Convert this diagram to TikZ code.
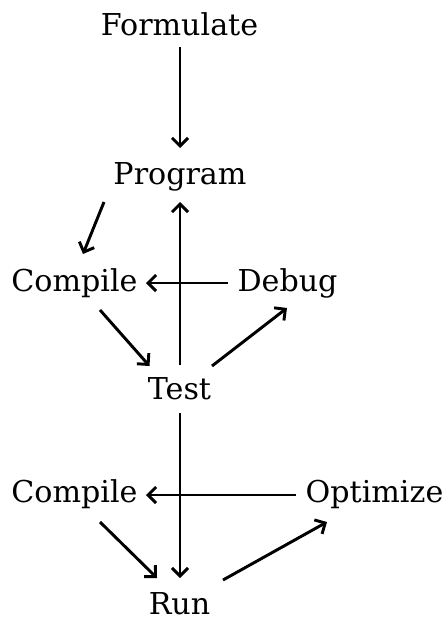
\documentclass[tikz,border=0pt]{standalone}
\usepackage{fontspec}
\setmainfont{DejaVu Serif}
\usetikzlibrary{calc,arrows.meta}
\begin{document}
\begin{tikzpicture}[x=0.75pt,y=-0.75pt,
  lbl/.style={anchor=base,inner sep=0pt,font=\fontsize{22.6}{28}\selectfont},
  arr/.style={-{Straight Barb[length=6pt,width=12pt,line width=2.2pt]},line width=2.2pt}]
\useasboundingbox (0,0) rectangle (444,617);
% labels, placed by their baselines
\node[lbl] (form) at (179.5,36) {Formulate};
\node[lbl] (prog) at (180,184) {Program};
\node[lbl] (compA) at (74.5,291) {Compile};
\node[lbl] (debug) at (287.5,291) {Debug};
\node[lbl] (test) at (179.5,399) {Test};
\node[lbl] (compB) at (74.5,502) {Compile};
\node[lbl] (opt) at (374.5,502) {Optimize};
\node[lbl] (run) at (179.5,614) {Run};
% arrows
\draw[arr] ($(form.base)+(0.5,11)$) -- ($(prog.base)+(0,-36)$);
\draw[arr] ($(test.base)+(0.5,-34)$) -- ($(prog.base)+(0,18)$);
\draw[arr] ($(prog.base)+(-76,18)$) -- ($(compA.base)+(8.5,-37)$);
\draw[arr] ($(debug.base)+(-59.5,-8)$) -- ($(compA.base)+(71.5,-8)$);
\draw[arr] ($(compA.base)+(25.5,19)$) -- ($(test.base)+(-30,-33)$);
\draw[arr] ($(test.base)+(32.5,-33)$) -- ($(debug.base)+(-0.5,17)$);
\draw[arr] ($(test.base)+(0.5,14)$) -- ($(run.base)+(0.5,-36)$);
\draw[arr] ($(opt.base)+(-78.5,-7)$) -- ($(compB.base)+(71.5,-7)$);
\draw[arr] ($(compB.base)+(25.5,20)$) -- ($(run.base)+(-22.5,-36)$);
\draw[arr] ($(run.base)+(43.5,-34)$) -- ($(opt.base)+(-47.5,20)$);
\end{tikzpicture}
\end{document}
